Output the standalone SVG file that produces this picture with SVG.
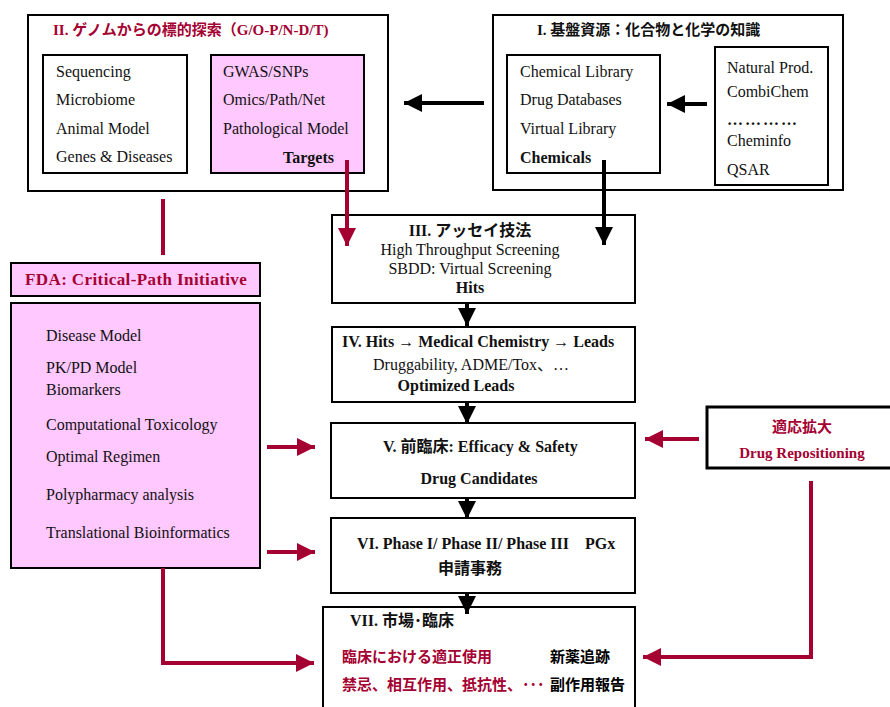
<svg xmlns="http://www.w3.org/2000/svg" width="890" height="707" viewBox="0 0 890 707">
<defs>
<style>
.box{fill:#fff;stroke:#000;stroke-width:2}
.pink{fill:#ffc8ff;stroke:#000;stroke-width:2}
.t{font-family:"Liberation Serif","Noto Sans CJK JP",serif;font-size:16px;fill:#111}
.b{font-weight:bold}
.red{fill:#a50032}
.jp{font-family:"Noto Sans CJK JP",sans-serif;font-weight:bold;font-size:15px}
.k{stroke:#000;stroke-width:4;fill:none}
.r{stroke:#a50032;stroke-width:4;fill:none}
</style>
<marker id="hk" markerUnits="userSpaceOnUse" markerWidth="20" markerHeight="20" viewBox="0 0 20 20" refX="18" refY="10" orient="auto"><path d="M0,1 L18,10 L0,19 z" fill="#000"/></marker>
<marker id="hr" markerUnits="userSpaceOnUse" markerWidth="20" markerHeight="20" viewBox="0 0 20 20" refX="18" refY="10" orient="auto"><path d="M0,1 L18,10 L0,19 z" fill="#a50032"/></marker>
</defs>

<g id="box-II">
<rect class="box" x="28" y="15" width="360" height="176"/>
<text class="t b red" x="53" y="35" style="font-size:15px">II. ゲノムからの標的探索（G/O-P/N-D/T)</text>
<rect class="box" x="43" y="55" width="144" height="118"/>
<text class="t" x="56" y="77">Sequencing</text>
<text class="t" x="56" y="105">Microbiome</text>
<text class="t" x="56" y="134">Animal Model</text>
<text class="t" x="56" y="162">Genes &amp; Diseases</text>
<rect class="pink" x="211" y="55" width="153" height="118"/>
<text class="t" x="223" y="77">GWAS/SNPs</text>
<text class="t" x="223" y="105">Omics/Path/Net</text>
<text class="t" x="223" y="134">Pathological Model</text>
<text class="t b" x="283" y="163">Targets</text>
</g>

<g id="box-I">
<rect class="box" x="493" y="15" width="350" height="175"/>
<text class="t b" x="537" y="35" style="font-size:15px">I. 基盤資源：化合物と化学の知識</text>
<rect class="box" x="507" y="55" width="153" height="118"/>
<text class="t" x="520" y="77">Chemical Library</text>
<text class="t" x="520" y="105">Drug Databases</text>
<text class="t" x="520" y="134">Virtual Library</text>
<text class="t b" x="520" y="163">Chemicals</text>
<rect class="box" x="715" y="47" width="113" height="138"/>
<text class="t" x="727" y="73">Natural Prod.</text>
<text class="t" x="727" y="97">CombiChem</text>
<text class="t b" x="727" y="125" style="letter-spacing:2px">…………</text>
<text class="t" x="727" y="146">Cheminfo</text>
<text class="t" x="727" y="175">QSAR</text>
</g>

<g id="box-III">
<rect class="box" x="332" y="215" width="303" height="88"/>
<text class="t b" x="470" y="236" text-anchor="middle">III. アッセイ技法</text>
<text class="t" x="470" y="255" text-anchor="middle">High Throughput Screening</text>
<text class="t" x="470" y="274" text-anchor="middle">SBDD: Virtual Screening</text>
<text class="t b" x="470" y="293" text-anchor="middle">Hits</text>
</g>

<g id="box-IV">
<rect class="box" x="332" y="327" width="303" height="75"/>
<text class="t b" x="342" y="347">IV. Hits → Medical Chemistry → Leads</text>
<text class="t" x="373" y="370">Druggability, ADME/Tox、…</text>
<text class="t b" x="456" y="391" text-anchor="middle">Optimized Leads</text>
</g>

<g id="box-V">
<rect class="box" x="331" y="423" width="304" height="75"/>
<text class="t b" x="383" y="452">V. 前臨床: Efficacy &amp; Safety</text>
<text class="t b" x="479" y="484" text-anchor="middle">Drug Candidates</text>
</g>

<g id="box-VI">
<rect class="box" x="331" y="518" width="304" height="75"/>
<text class="t b" x="357" y="549">VI. Phase I/ Phase II/ Phase III　PGx</text>
<text class="t b" x="470" y="574" text-anchor="middle">申請事務</text>
</g>

<g id="box-VII">
<rect class="box" x="323" y="607" width="312" height="120"/>
<text class="t b" x="350" y="626">VII. 市場･臨床</text>
<text class="jp red" x="342" y="662">臨床における適正使用</text>
<text class="jp red" x="342" y="690">禁忌、相互作用、抵抗性、･･･</text>
<text class="jp" x="550" y="662">新薬追跡</text>
<text class="jp" x="550" y="690">副作用報告</text>
</g>

<g id="box-FDA">
<rect class="pink" x="11" y="263" width="249" height="33"/>
<text class="t b red" x="25" y="285" style="font-size:17px;letter-spacing:0.4px">FDA: Critical-Path Initiative</text>
</g>

<g id="box-CPI">
<rect class="pink" x="11" y="303" width="249" height="265"/>
<text class="t" x="46" y="341">Disease Model</text>
<text class="t" x="46" y="373">PK/PD Model</text>
<text class="t" x="46" y="395">Biomarkers</text>
<text class="t" x="46" y="430">Computational Toxicology</text>
<text class="t" x="46" y="462">Optimal Regimen</text>
<text class="t" x="46" y="500">Polypharmacy analysis</text>
<text class="t" x="46" y="538">Translational Bioinformatics</text>
</g>

<g id="box-DR">
<rect x="707" y="407" width="200" height="61" fill="#fff" stroke="#000" stroke-width="3"/>
<text class="jp red" x="802" y="432" text-anchor="middle">適応拡大</text>
<text class="t b red" x="802" y="458" text-anchor="middle" style="font-size:15px">Drug Repositioning</text>
</g>

<g id="connectors">
<line class="k" x1="484" y1="103" x2="404" y2="103" marker-end="url(#hk)"/>
<line class="k" x1="707" y1="104" x2="667" y2="104" marker-end="url(#hk)"/>
<line class="k" x1="604" y1="160" x2="604" y2="245" marker-end="url(#hk)"/>
<line class="r" x1="347" y1="160" x2="347" y2="246" marker-end="url(#hr)"/>
<line class="k" x1="467" y1="303" x2="467" y2="326" marker-end="url(#hk)"/>
<line class="k" x1="467" y1="402" x2="467" y2="424" marker-end="url(#hk)"/>
<line class="k" x1="467" y1="498" x2="467" y2="519" marker-end="url(#hk)"/>
<line class="k" x1="467" y1="593" x2="467" y2="614" marker-end="url(#hk)"/>
<line class="r" x1="163" y1="199" x2="163" y2="255"/>
<line class="r" x1="267" y1="447" x2="315" y2="447" marker-end="url(#hr)"/>
<line class="r" x1="267" y1="552" x2="315" y2="552" marker-end="url(#hr)"/>
<line class="r" x1="699" y1="439" x2="645" y2="439" marker-end="url(#hr)"/>
<path class="r" d="M163,568 V663 H314" marker-end="url(#hr)"/>
<path class="r" d="M811,481 V657 H643" marker-end="url(#hr)"/>
</g>
</svg>
